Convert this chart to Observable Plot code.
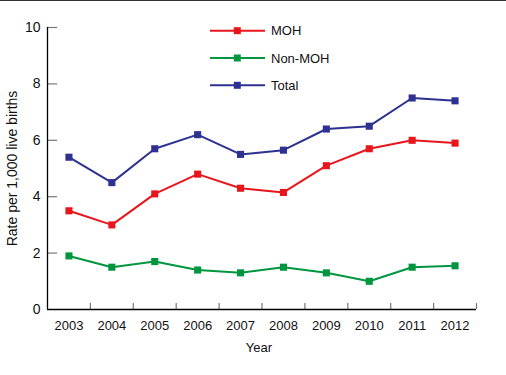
<!DOCTYPE html>
<html>
<head>
<meta charset="utf-8">
<script src="https://cdn.jsdelivr.net/npm/d3@7"></script>
<script src="https://cdn.jsdelivr.net/npm/@observablehq/plot@0.6"></script>
<style>
  html, body { margin: 0; padding: 0; background: #fff; }
  #wrap { position: relative; width: 506px; height: 375px; border-top: 1px solid #333; box-sizing: border-box; overflow: hidden; }
  #chart { position: absolute; left: 0; top: -1px; }
  #legend { position: absolute; left: 0; top: -1px; }
</style>
</head>
<body>
<div id="wrap"><div id="chart"></div><svg id="legend" width="506" height="120"></svg></div>
<script>
const years = [2003, 2004, 2005, 2006, 2007, 2008, 2009, 2010, 2011, 2012];
const moh = [3.5, 3.0, 4.1, 4.8, 4.3, 4.15, 5.1, 5.7, 6.0, 5.9];
const nonMoh = [1.9, 1.5, 1.7, 1.4, 1.3, 1.5, 1.3, 1.0, 1.5, 1.55];
const total = [5.4, 4.5, 5.7, 6.2, 5.5, 5.65, 6.4, 6.5, 7.5, 7.4];
const seriesNames = ["MOH", "Non-MOH", "Total"];
const seriesColors = ["#e8161c", "#00963f", "#2e3192"];
const yTicks = [0, 2, 4, 6, 8, 10];
const xLabel = "Year";
const yLabel = "Rate per 1,000 live births";

const seriesValues = [moh, nonMoh, total];
const data = seriesNames.flatMap((name, s) =>
  years.map((yr, i) => ({ series: name, year: yr, value: seriesValues[s][i] })));
const bounds = years.map(y => y - 0.5).concat([years[years.length - 1] + 0.5]);
const x0 = bounds[0];
const color = { domain: seriesNames, range: seriesColors };
const font = "'Liberation Sans', Arial, sans-serif";

const plot = Plot.plot({
  width: 506,
  height: 375,
  marginLeft: 47,
  marginRight: 30,
  marginTop: 27,
  marginBottom: 66,
  style: { fontFamily: font, fontSize: "13px", color: "#111", background: "transparent" },
  x: { domain: [bounds[0], bounds[bounds.length - 1]] },
  y: { domain: [0, 10] },
  color,
  marks: [
    Plot.ruleX(bounds.slice(1), { y1: 0, y2: 0.21, stroke: "#777", strokeWidth: 1.2 }),
    Plot.ruleY(yTicks.slice(1), { x1: x0, x2: x0 + 0.235, stroke: "#777", strokeWidth: 1.2 }),
    Plot.ruleY([0], { stroke: "#000", strokeWidth: 1.3 }),
    Plot.ruleX([x0], { stroke: "#000", strokeWidth: 1.3 }),
    Plot.axisX({ ticks: years, tickSize: 0, tickPadding: 11, tickFormat: d => String(d), label: null, fontSize: 13 }),
    Plot.axisY({ ticks: yTicks, tickSize: 0, tickPadding: 7, label: null, fontSize: 14 }),
    Plot.line(data, { x: "year", y: "value", z: "series", stroke: "series", strokeWidth: 2 }),
    Plot.dot(data, { x: "year", y: "value", fill: "series", symbol: "square", r: 4 }),
    Plot.text([xLabel], { frameAnchor: "bottom", lineAnchor: "middle", textAnchor: "middle", dy: 38, dx: -3, fontSize: 13, fill: "#111" }),
    Plot.text([yLabel], { frameAnchor: "left", textAnchor: "middle", lineAnchor: "middle", dx: -35, rotate: -90, fontSize: 14, fill: "#111" })
  ]
});
document.getElementById("chart").appendChild(plot);

// Legend
const leg = d3.select("#legend");
const rows = [30.7, 58, 85.3];
seriesNames.forEach((name, i) => {
  const g = leg.append("g").attr("transform", `translate(0,${rows[i]})`);
  g.append("line").attr("x1", 210).attr("x2", 265).attr("y1", 0).attr("y2", 0)
    .attr("stroke", seriesColors[i]).attr("stroke-width", 2);
  g.append("rect").attr("x", 237.3 - 3.5).attr("y", -3.5).attr("width", 7).attr("height", 7)
    .attr("fill", seriesColors[i]);
  g.append("text").attr("x", 271).attr("y", 0).attr("dy", "0.35em")
    .attr("font-family", font).attr("font-size", 13).attr("fill", "#111").text(name);
});
</script>
</body>
</html>
